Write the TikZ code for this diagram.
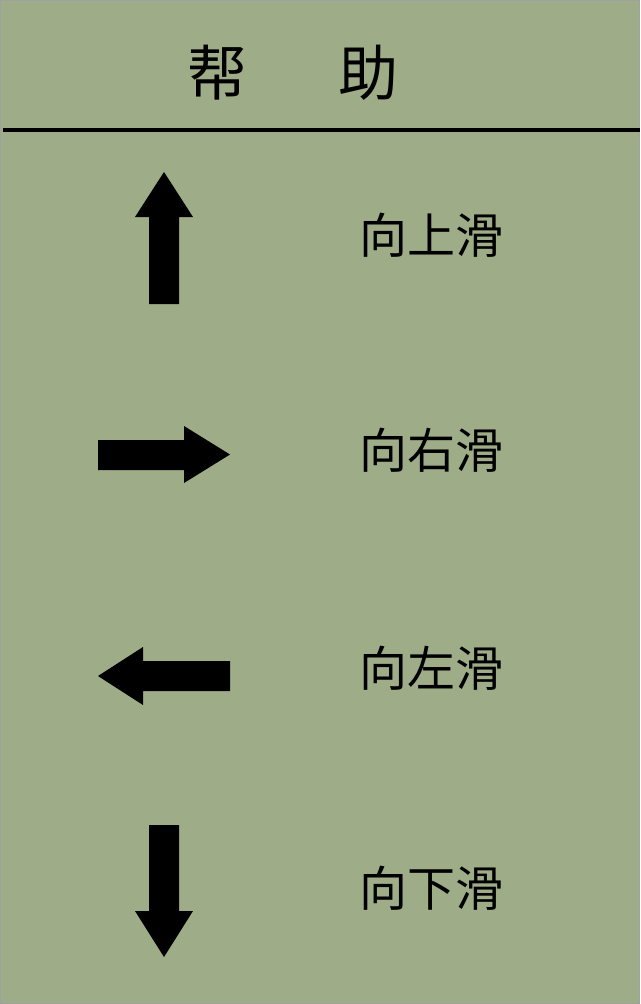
\documentclass[tikz,border=0pt]{standalone}
\usepackage{fontspec}
\newfontfamily\cjk{Noto Sans CJK SC}
\definecolor{bg}{HTML}{9EAC87}
\definecolor{frame}{HTML}{A0A0A0}
\tikzset{
  lbl/.style={font=\cjk\fontsize{48}{48}\selectfont, inner sep=0pt, anchor=center},
  ttl/.style={font=\cjk\fontsize{60}{60}\selectfont, inner sep=0pt, anchor=center},
  arr/.style={fill=black, draw=none}
}
\begin{document}
\begin{tikzpicture}[x=1pt,y=-1pt]
\fill[bg, draw=frame, line width=1pt] (0.5,0.5) rectangle (639.5,1003.5);
\useasboundingbox (0,0) rectangle (640,1004);
\node[ttl] (t1) at (217,73) {帮};
\node[ttl] (t2) at (368,73) {助};
\coordinate (hl) at (3,129.5);
\coordinate (hr) at (640,129.5);
\draw[line width=4pt] (hl) -- (hr);
% up arrow
\fill[arr] (149,304) -- (149,217) -- (135,217) -- (164,172) -- (193,217) -- (179,217) -- (179,304) -- cycle;
% right arrow
\fill[arr] (98,440) -- (184,440) -- (184,426) -- (230,454.5) -- (184,483) -- (184,470) -- (98,470) -- cycle;
% left arrow
\fill[arr] (230,661) -- (143,661) -- (143,647) -- (98,676) -- (143,705) -- (143,691) -- (230,691) -- cycle;
% down arrow
\fill[arr] (149,825) -- (149,911) -- (135,911) -- (164,957) -- (193,911) -- (179,911) -- (179,825) -- cycle;
\node[lbl] (l1) at (431,235) {向上滑};
\node[lbl] (l2) at (431,450.5) {向右滑};
\node[lbl] (l3) at (431,668.5) {向左滑};
\node[lbl] (l4) at (431,888.5) {向下滑};
\end{tikzpicture}
\end{document}
